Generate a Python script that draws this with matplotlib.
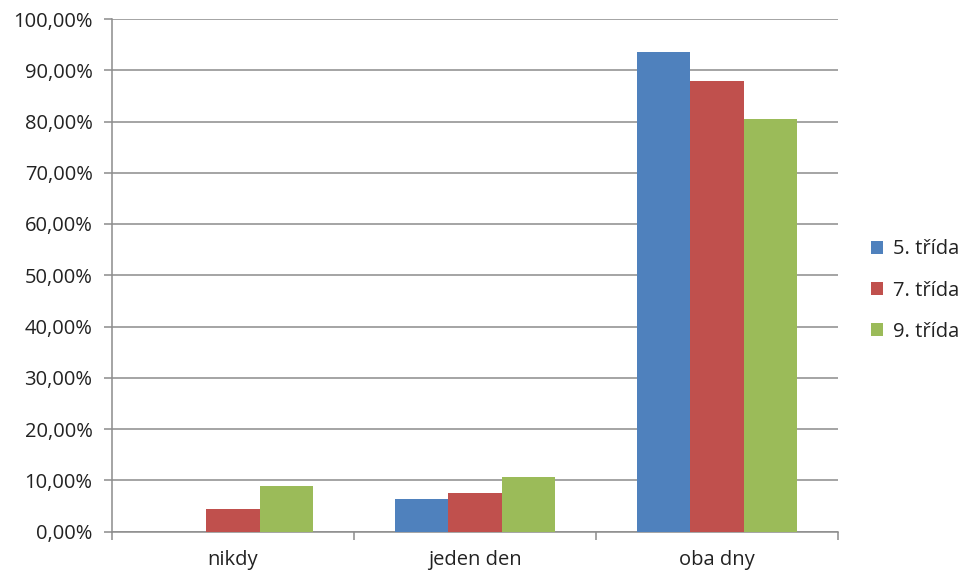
import matplotlib.pyplot as plt
import numpy as np

plt.rcParams['font.family'] = ['Open Sans', 'DejaVu Sans']

categories = ["nikdy", "jeden den", "oba dny"]
series_names = ["5. třída", "7. třída", "9. třída"]
trida5 = [0.0, 6.35, 93.6]
trida7 = [4.45, 7.45, 88.0]
trida9 = [8.9, 10.6, 80.5]
colors = ["#4F81BD", "#C0504D", "#9BBB59"]
yticks = np.arange(0, 101, 10)

fig = plt.figure(figsize=(9.65, 5.74), dpi=100)
ax = fig.add_axes([112 / 965, 1 - 531.5 / 574, 726 / 965, 512.5 / 574])

x = np.arange(len(categories))
w = 0.22
for i, (vals, name) in enumerate(zip([trida5, trida7, trida9], series_names)):
    ax.bar(x + (i - 1) * w, vals, width=w, color=colors[i], label=name, zorder=3)

ax.set_xlim(-0.5, 2.5)
ax.set_ylim(0, 100)
ax.set_yticks(yticks)
ax.set_yticklabels([("%.2f%%" % v).replace(".", ",") for v in yticks], fontsize=14.5, color="#222222")
ax.yaxis.grid(True, color="#8C8C8C", linewidth=1.1, zorder=0)

# category labels centred, tick marks on the boundaries
ax.set_xticks([-0.5, 0.5, 1.5, 2.5])
ax.set_xticklabels([])
ax.set_xticks(x, minor=True)
ax.set_xticklabels(categories, minor=True, fontsize=14.5, color="#222222")
ax.tick_params(axis="x", which="minor", length=0, pad=13)
ax.tick_params(axis="x", which="major", length=6, color="#8C8C8C", width=1.1)
ax.tick_params(axis="y", length=6, color="#8C8C8C", width=1.1, pad=8)

for s in ["top", "right"]:
    ax.spines[s].set_visible(False)
for s in ["left", "bottom"]:
    ax.spines[s].set_color("#8C8C8C")
    ax.spines[s].set_linewidth(1.1)

ax.legend(loc="center left", bbox_to_anchor=(1.02, 0.47), frameon=False, fontsize=14.5,
          handlelength=0.6, handleheight=0.6, handletextpad=0.5, labelspacing=1.05,
          labelcolor="#222222")

fig.savefig("out.png", dpi=100)
